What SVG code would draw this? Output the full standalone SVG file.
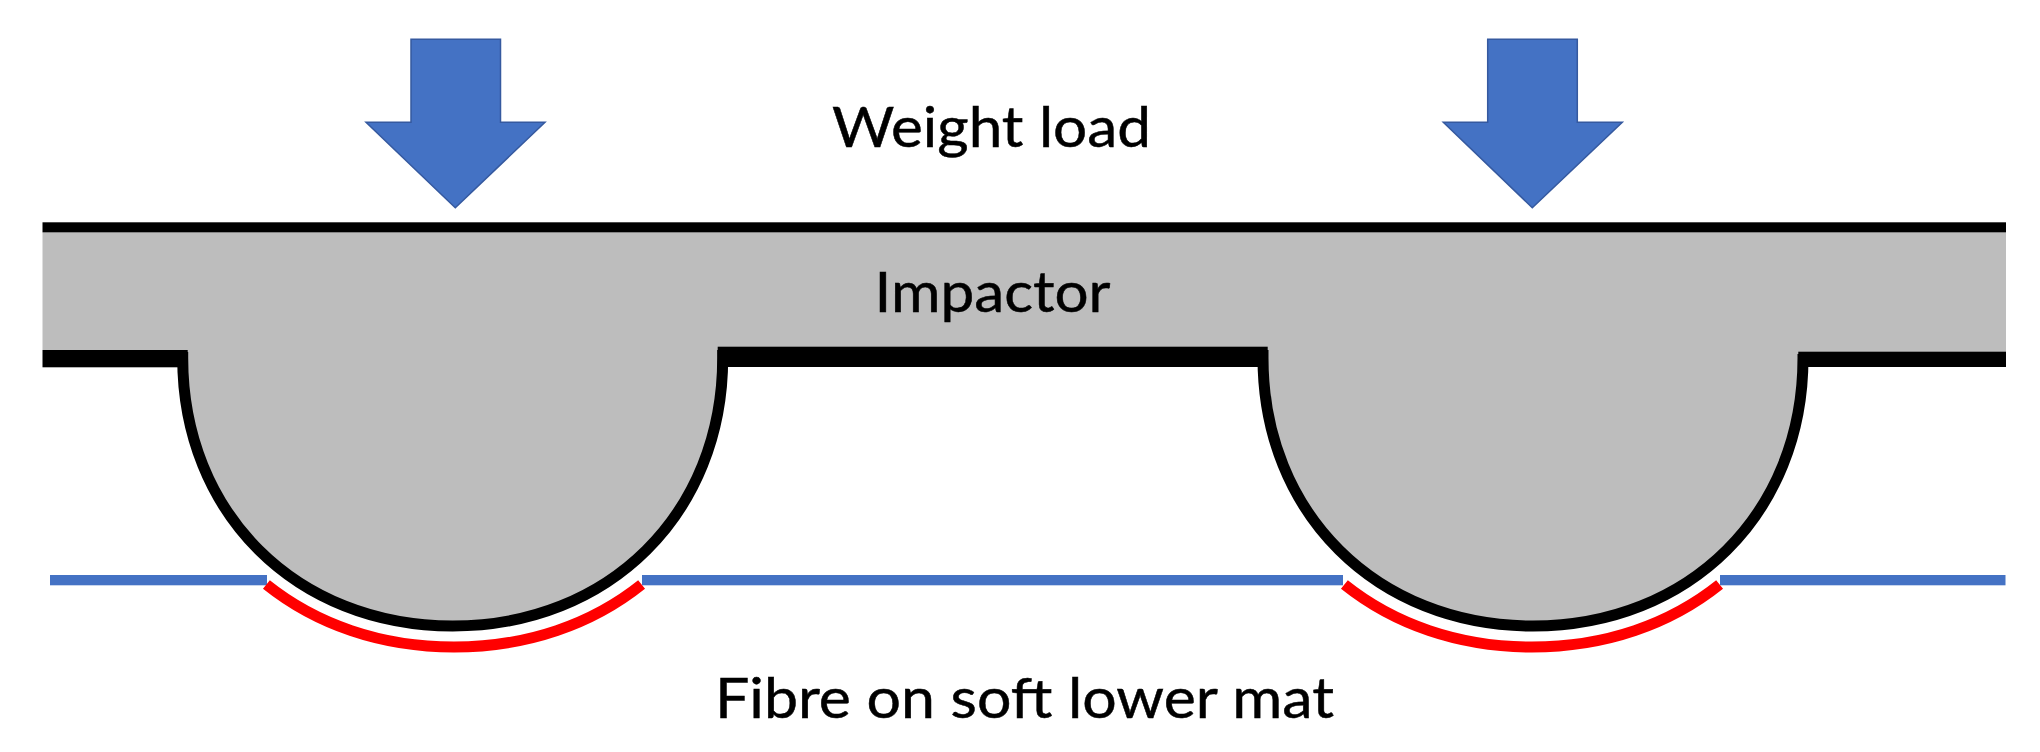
<svg xmlns="http://www.w3.org/2000/svg" width="2040" height="752" viewBox="0 0 2040 752">
<style>
.blk{fill:#000}
.gray{fill:#bdbdbd}
.arc{fill:none;stroke:#000;stroke-width:11}
.red{fill:none;stroke:#f00;stroke-width:11}
.fibre{fill:#4472c4}
.arrow{fill:#4472c4;stroke:#35599f;stroke-width:1.5}
text{font-family:Lato,"Open Sans","Liberation Sans",sans-serif;font-size:57px;fill:#000;stroke:#000;stroke-width:.5}
</style>
<rect width="2040" height="752" fill="#fff"/>
<g id="impactor">
<path class="gray" d="M42.5 232H2006V352H1803V358C1803 513 1689.6 626 1533 626C1376.4 626 1263 513 1263 358V347H722.7V358C722.7 513 609.3 626 452.7 626C296.1 626 182.7 513 182.7 358V350H42.5Z"/>
<rect class="blk" x="42.5" y="222.3" width="1963.5" height="10"/>
<rect class="blk" x="42.5" y="350" width="145.2" height="17.3"/>
<rect class="blk" x="717.7" y="346.7" width="550" height="20.3"/>
<rect class="blk" x="1798.3" y="351.7" width="207.7" height="15.3"/>
<path class="arc" d="M182.7 352V358C182.7 513 296.1 626 452.7 626C609.3 626 722.7 513 722.7 358V350"/>
<path class="arc" d="M1263 350V358C1263 513 1376.4 626 1533 626C1689.6 626 1803 513 1803 358V354"/>
<text x="874.5" y="312" textLength="236" lengthAdjust="spacingAndGlyphs">Impactor</text>
</g>
<g id="fibre">
<rect class="fibre" x="50" y="575" width="217" height="10.3"/>
<rect class="fibre" x="642" y="575" width="701" height="10.3"/>
<rect class="fibre" x="1720" y="575" width="285.5" height="10.3"/>
<path class="red" d="M266.4 584.5C315.9 624.1 380.5 647 454 647C527.5 647 592.1 624.1 641.6 584.5"/>
<path class="red" d="M1344.4 584.5C1393.9 624.1 1458.5 647 1532 647C1605.5 647 1670.1 624.1 1719.6 584.5"/>
</g>
<g id="load-left"><path class="arrow" d="M411 39.3H500.5V122.3H545L455.3 207.7L366 122.3H411Z"/></g>
<g id="load-right"><path class="arrow" d="M1487.7 39.3H1577.3V122.3H1622.3L1532.3 207.7L1443.3 122.3H1487.7Z"/></g>
<g id="labels">
<text x="832" y="147" textLength="319" lengthAdjust="spacingAndGlyphs">Weight load</text>
<text x="715" y="718" textLength="619" lengthAdjust="spacingAndGlyphs">Fibre on soft lower mat</text>
</g>
</svg>
